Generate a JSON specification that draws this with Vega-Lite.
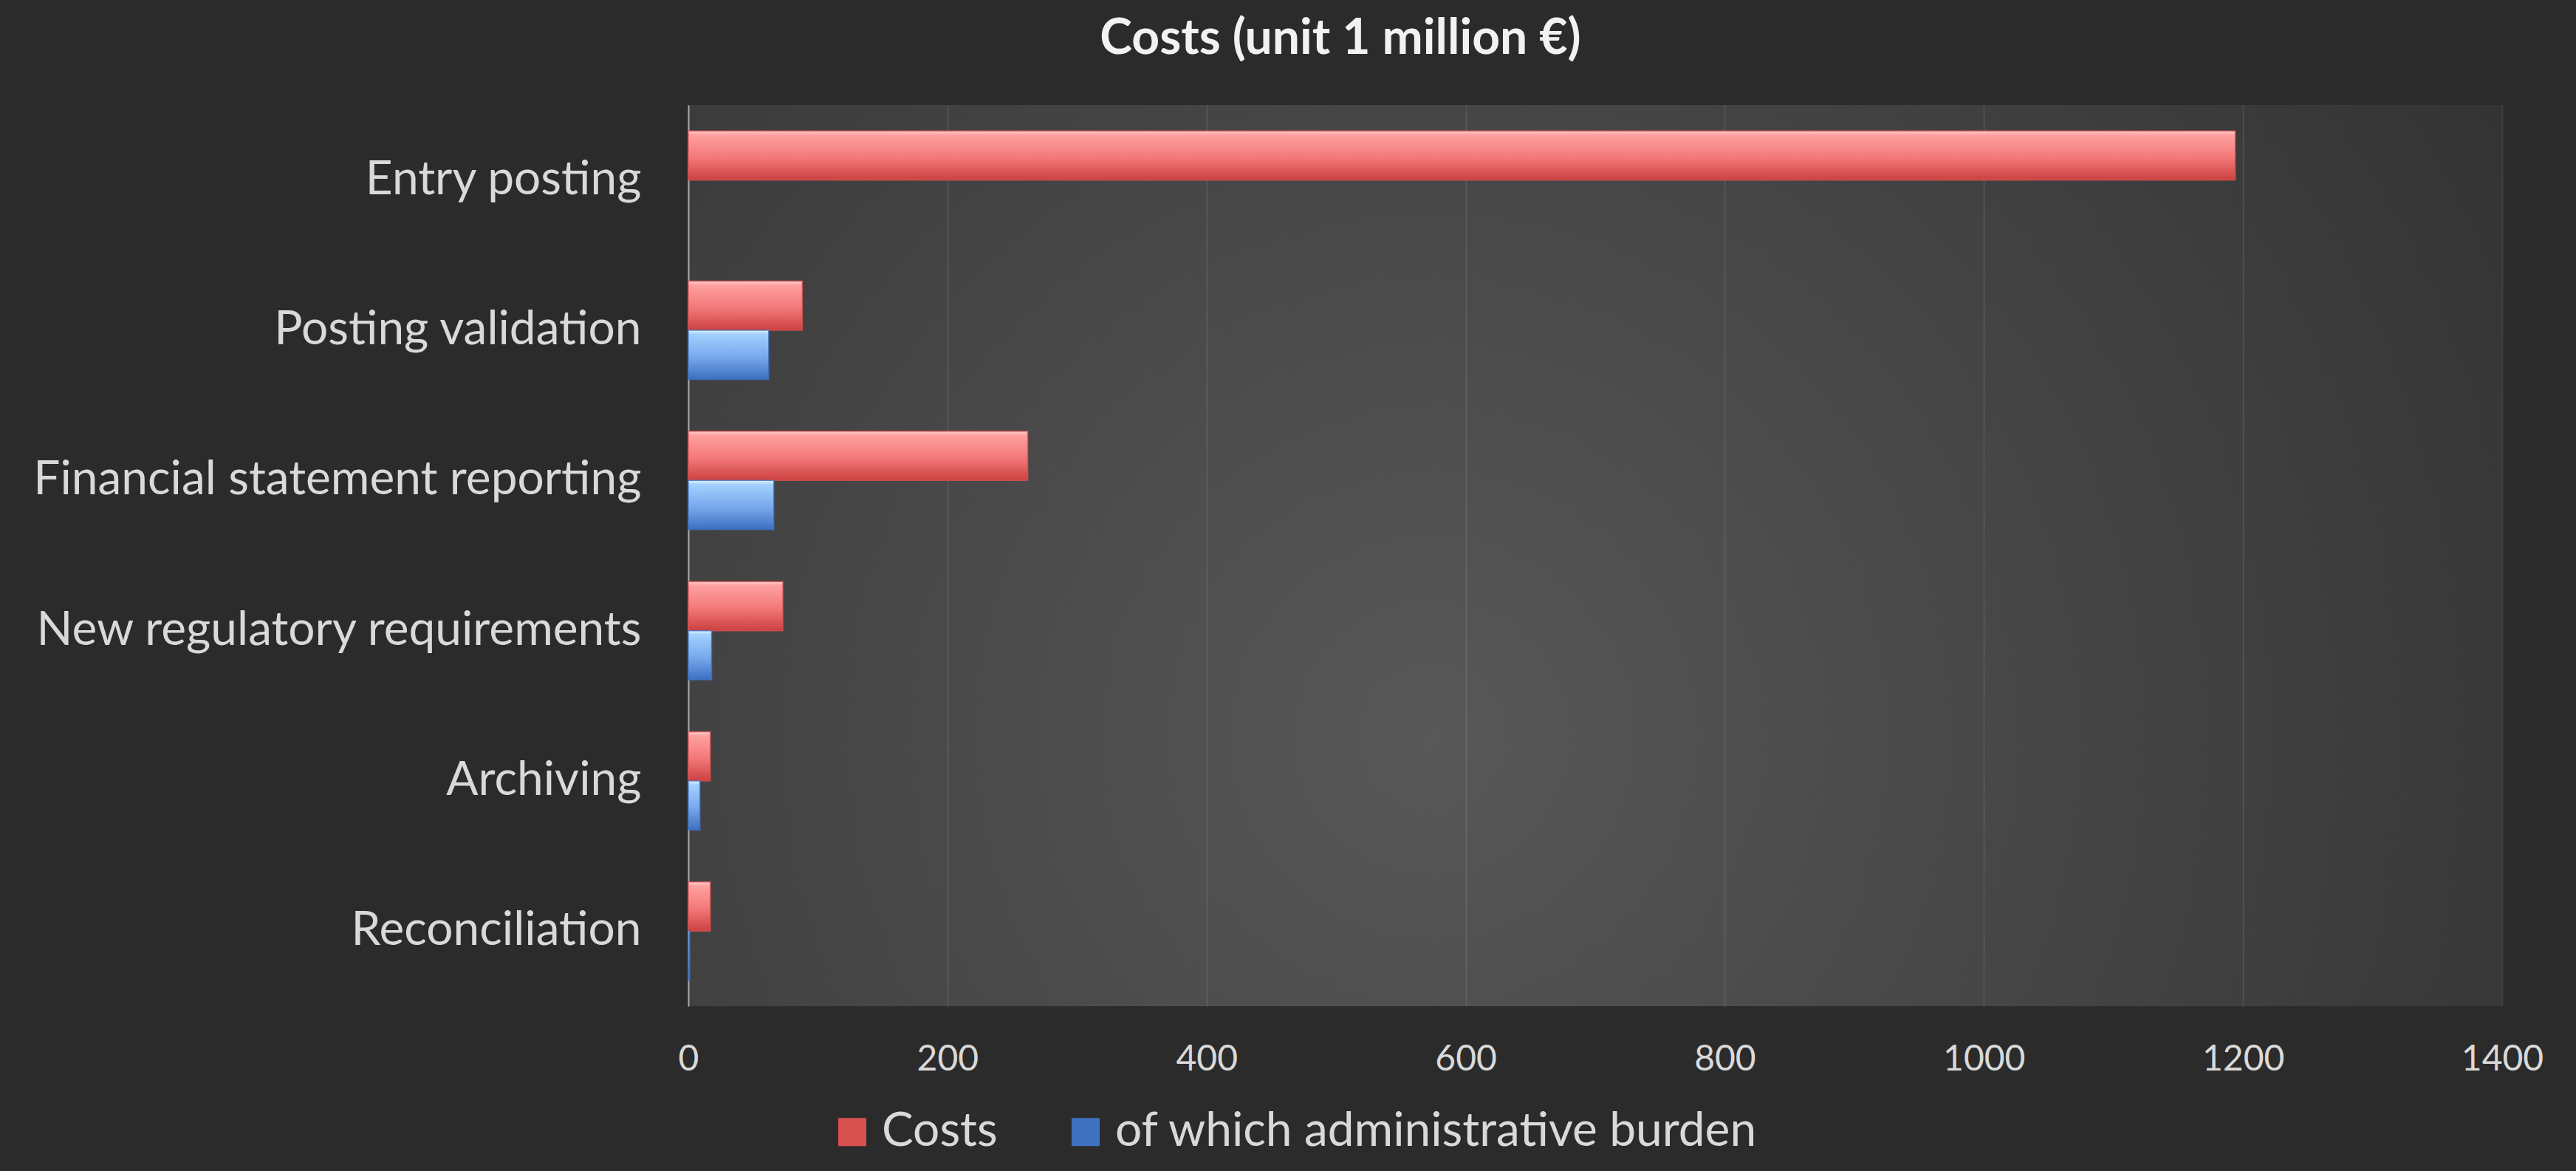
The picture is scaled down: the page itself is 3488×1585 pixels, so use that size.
{
  "$schema": "https://vega.github.io/schema/vega-lite/v6.json",
  "width": 2456,
  "height": 1220,
  "autosize": {"type": "none"},
  "padding": {"left": 932, "top": 142, "right": 100, "bottom": 223},
  "background": "#2b2b2b",
  "title": {
    "text": "Costs (unit 1 million €)",
    "font": "Lato",
    "fontSize": 66,
    "fontWeight": "bold",
    "color": "#f2f2f2",
    "anchor": "middle",
    "dx": -345,
    "baseline": "alphabetic",
    "offset": 3
  },
  "data": {
    "values": [
      {"activity": "Entry posting", "series": "Costs", "value": 1194},
      {"activity": "Posting validation", "series": "Costs", "value": 88},
      {"activity": "Posting validation", "series": "of which administrative burden", "value": 62},
      {"activity": "Financial statement reporting", "series": "Costs", "value": 262},
      {"activity": "Financial statement reporting", "series": "of which administrative burden", "value": 66},
      {"activity": "New regulatory requirements", "series": "Costs", "value": 73},
      {"activity": "New regulatory requirements", "series": "of which administrative burden", "value": 18},
      {"activity": "Archiving", "series": "Costs", "value": 17},
      {"activity": "Archiving", "series": "of which administrative burden", "value": 9},
      {"activity": "Reconciliation", "series": "Costs", "value": 17},
      {"activity": "Reconciliation", "series": "of which administrative burden", "value": 1}
    ]
  },
  "mark": {"type": "bar", "strokeWidth": 1.5, "strokeOpacity": 0.8},
  "encoding": {
    "y": {
      "field": "activity",
      "type": "nominal",
      "sort": ["Entry posting", "Posting validation", "Financial statement reporting", "New regulatory requirements", "Archiving", "Reconciliation"],
      "scale": {"paddingInner": 0.346, "paddingOuter": 0.173},
      "axis": {
        "title": null,
        "grid": false,
        "ticks": false,
        "domain": true,
        "domainColor": "#a6a6a6",
        "domainWidth": 2,
        "labelFont": "Lato",
        "labelFontSize": 64,
        "labelColor": "#d9d9d9",
        "labelPadding": 64,
        "labelLimit": 2000
      }
    },
    "yOffset": {
      "field": "series",
      "type": "nominal",
      "sort": ["Costs", "of which administrative burden"],
      "scale": {"paddingInner": 0, "paddingOuter": 0}
    },
    "x": {
      "field": "value",
      "type": "quantitative",
      "scale": {"domain": [0, 1400], "nice": false},
      "axis": {
        "title": null,
        "values": [0, 200, 400, 600, 800, 1000, 1200, 1400],
        "format": "d",
        "labelFlush": false,
        "grid": true,
        "gridColor": "#ffffff",
        "gridOpacity": 0.09,
        "gridWidth": 2,
        "domain": false,
        "ticks": false,
        "labelFont": "Lato",
        "labelFontSize": 48,
        "labelColor": "#d9d9d9",
        "labelPadding": 48
      }
    },
    "stroke": {
      "field": "series",
      "type": "nominal",
      "sort": ["Costs", "of which administrative burden"],
      "scale": {
        "domain": ["Costs", "of which administrative burden"],
        "range": ["#d95050", "#3f72c0"]
      },
      "legend": {
        "title": null,
        "orient": "none",
        "direction": "horizontal",
        "legendX": 190,
        "legendY": 1358,
        "symbolType": "square",
        "symbolSize": 361,
        "symbolStrokeWidth": 19,
        "symbolOpacity": 1,
        "labelFont": "Lato",
        "labelFontSize": 64,
        "labelColor": "#d9d9d9",
        "labelOffset": 8,
        "labelLimit": 2000,
        "columnPadding": 71
      }
    },
    "fill": {
      "condition": {
        "test": "datum.series === 'Costs'",
        "value": {"gradient": "linear", "x1": 0, "y1": 0, "x2": 0, "y2": 1, "stops": [
          {"offset": 0, "color": "#ffd0d0"},
          {"offset": 0.08, "color": "#ffa0a0"},
          {"offset": 0.55, "color": "#f27878"},
          {"offset": 1, "color": "#cc4040"}
        ]}
      },
      "value": {"gradient": "linear", "x1": 0, "y1": 0, "x2": 0, "y2": 1, "stops": [
        {"offset": 0, "color": "#e0f4ff"},
        {"offset": 0.08, "color": "#a3d0ff"},
        {"offset": 0.55, "color": "#77a8ec"},
        {"offset": 1, "color": "#3c6fc0"}
      ]}
    }
  },
  "config": {
    "view": {
      "stroke": null,
      "fill": {
        "gradient": "radial",
        "x1": 0.41, "y1": 0.6, "r1": 0,
        "x2": 0.41, "y2": 0.6, "r2": 0.75,
        "stops": [
          {"offset": 0, "color": "#585858"},
          {"offset": 1, "color": "#303030"}
        ]
      }
    }
  }
}
